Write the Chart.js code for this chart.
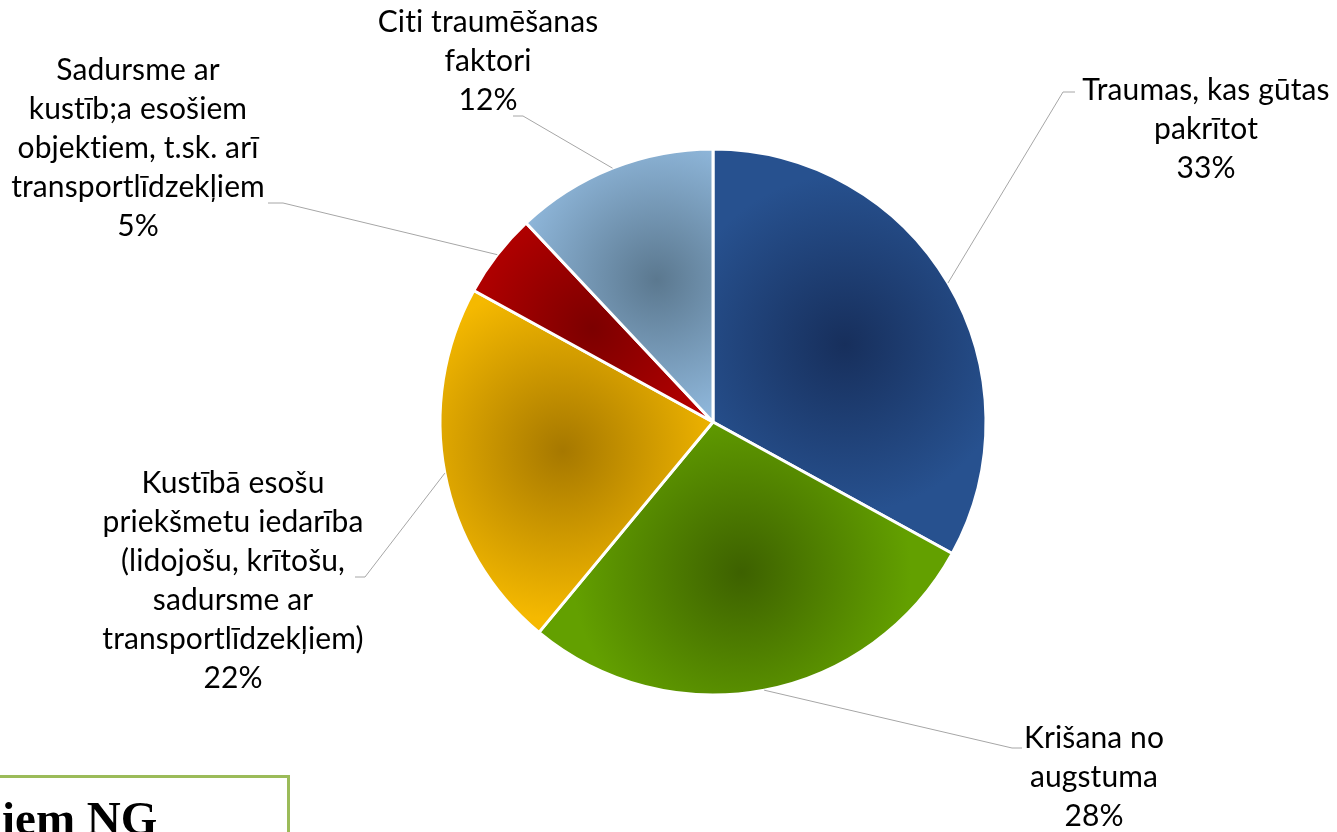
<!DOCTYPE html>
<html>
<head>
<meta charset="utf-8">
<script src="https://cdn.jsdelivr.net/npm/chart.js@4/dist/chart.umd.min.js"></script>
<style>
  html, body { margin: 0; padding: 0; background: #fff; overflow: hidden; }
  #wrap { position: relative; width: 1337px; height: 832px; overflow: hidden; }
  #pie { position: absolute; left: 0; top: 0; }
  #noteBox { position: absolute; left: -12px; top: 775px; width: 302px; height: 120px;
             border: 3px solid #9bbb59; box-sizing: border-box; }
  #noteText { position: absolute; left: 2px; top: 795px; font: bold 47px "Liberation Serif", "Times New Roman", serif;
              line-height: 47px; color: #000; white-space: nowrap; }
</style>
</head>
<body>
<div id="wrap">
  <canvas id="pie" width="1337" height="832"></canvas>
  <div id="noteBox"></div>
  <div id="noteText">iem NG</div>
</div>
<script>
// slice names (one entry per line of the data label)
const categories = [
  ["Traumas, kas gūtas", "pakrītot"],
  ["Krišana no", "augstuma"],
  ["Kustībā esošu", "priekšmetu iedarība", "(lidojošu, krītošu,", "sadursme ar", "transportlīdzekļiem)"],
  ["Sadursme ar", "kustīb;a esošiem", "objektiem, t.sk. arī", "transportlīdzekļiem"],
  ["Citi traumēšanas", "faktori"]
];
// percentages
const values = [33, 28, 22, 5, 12];

// colours: slice edge and the darker centre of the radial shading
const edgeColors   = ["#27518f", "#63a000", "#f5b900", "#c40000", "#98c2e8"];
const centerColors = ["#172f5c", "#3d6100", "#a67800", "#7c0000", "#5b788f"];

const PIE_R = 273;
const FONT = '30px Lato, "Noto Sans", sans-serif';
const LINE_H = 39;

// where each data label sits and how its leader line bends (x, first baseline, elbow, stub end)
const labelLayout = [
  { x: 1206, y: 100, elbow: [1063, 92],  end: [1075, 92] },
  { x: 1094, y: 748, elbow: [1012, 748], end: [1022, 748] },
  { x: 233,  y: 493, elbow: [365, 577],  end: [355, 577] },
  { x: 138,  y: 80,  elbow: [283, 203],  end: [268, 203] },
  { x: 488,  y: 32,  elbow: [523, 116],  end: [513, 116] }
];

// radial shading per slice, darkest part about half-way out along the slice middle
function sliceFill(context) {
  const i = context.dataIndex;
  const chart = context.chart;
  const area = chart.chartArea;
  if (!area) return edgeColors[i];
  const cx = (area.left + area.right) / 2;
  const cy = (area.top + area.bottom) / 2;
  const total = values.reduce((s, v) => s + v, 0);
  const before = values.slice(0, i).reduce((s, v) => s + v, 0);
  const mid = -Math.PI / 2 + (before + values[i] / 2) / total * Math.PI * 2;
  const gx = cx + Math.cos(mid) * PIE_R * 0.56;
  const gy = cy + Math.sin(mid) * PIE_R * 0.56;
  const g = chart.ctx.createRadialGradient(gx, gy, 0, gx, gy, PIE_R * 0.62);
  g.addColorStop(0, centerColors[i]);
  g.addColorStop(1, edgeColors[i]);
  return g;
}

// data labels with leader lines
const callouts = {
  id: "callouts",
  afterDatasetsDraw(chart) {
    const c = chart.ctx;
    const meta = chart.getDatasetMeta(0);
    c.save();
    meta.data.forEach((arc, i) => {
      const p = arc.getProps(["x", "y", "startAngle", "endAngle", "outerRadius"], true);
      const mid = (p.startAngle + p.endAngle) / 2;
      const ax = p.x + Math.cos(mid) * p.outerRadius;
      const ay = p.y + Math.sin(mid) * p.outerRadius;
      const L = labelLayout[i];
      c.strokeStyle = "#a6a6a6";
      c.lineWidth = 1;
      c.beginPath();
      c.moveTo(ax, ay);
      c.lineTo(L.elbow[0], L.elbow[1]);
      c.lineTo(L.end[0], L.end[1]);
      c.stroke();

      const lines = categories[i].concat([values[i] + "%"]);
      c.fillStyle = "#000";
      c.font = FONT;
      c.letterSpacing = "0.1px"; // keeps "ti" from turning into a ligature
      c.textAlign = "center";
      c.textBaseline = "alphabetic";
      lines.forEach((t, k) => c.fillText(t, L.x, L.y + k * LINE_H));
    });
    c.restore();
  }
};

document.addEventListener("DOMContentLoaded", () => {
  const ctx = document.getElementById("pie").getContext("2d");
  new Chart(ctx, {
    type: "pie",
    data: {
      labels: categories,
      datasets: [{
        data: values,
        backgroundColor: sliceFill,
        borderColor: "#ffffff",
        borderWidth: 3
      }]
    },
    options: {
      responsive: false,
      animation: false,
      radius: PIE_R,
      layout: { padding: { left: 150, right: 61, top: 100, bottom: 88 } },
      plugins: {
        legend: { display: false },
        tooltip: { enabled: false }
      }
    },
    plugins: [callouts]
  });
});
</script>
</body>
</html>
